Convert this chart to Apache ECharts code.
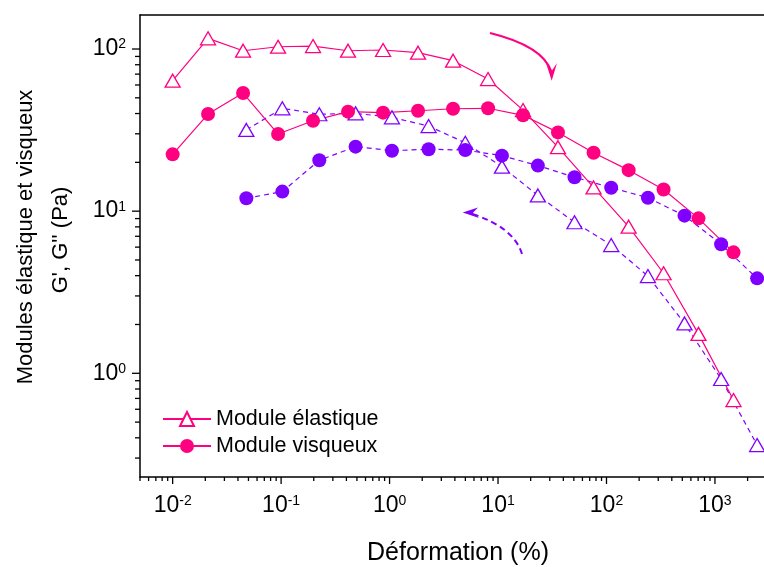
<!DOCTYPE html>
<html><head><meta charset="utf-8">
<script src="https://cdn.jsdelivr.net/npm/echarts@6/dist/echarts.min.js"></script>
<style>html,body{margin:0;padding:0;background:#fff}#c{width:764px;height:567px}</style>
</head><body><div id="c"></div>
<script>
// ---- data ----
const strainA  = [0.01, 0.0212, 0.0446, 0.0938, 0.197, 0.414, 0.871, 1.83, 3.85, 8.09, 17.0, 35.7, 76.0, 160, 336, 705, 1483];
const elasticA = [63.8, 116.4, 97.6, 103.3, 104.3, 97.6, 98.6, 94.9, 84.7, 65.3, 42.0, 24.8, 14.0, 8.02, 4.14, 1.75, 0.684];
const viscousA = [22.4, 39.7, 53.5, 29.9, 36.1, 41.1, 40.5, 41.6, 42.8, 43.1, 39.0, 30.6, 22.9, 17.9, 13.6, 9.03, 5.57];
const strainB  = [0.0478, 0.1026, 0.225, 0.486, 1.052, 2.29, 4.99, 10.87, 23.3, 50.7, 110.5, 241, 524, 1140, 2448];
const elasticB = [31.7, 43.1, 39.6, 40.1, 37.9, 33.5, 26.4, 18.8, 12.5, 8.54, 6.18, 3.98, 2.03, 0.922, 0.361];
const viscousB = [12.0, 13.2, 20.6, 25.0, 23.6, 24.1, 23.8, 22.0, 19.1, 16.2, 13.95, 12.1, 9.38, 6.25, 3.85];
const seriesNames = ['Module élastique', 'Module visqueux'];
const xTitle = 'Déformation (%)';
const yTitle1 = 'Modules élastique et visqueux';
const yTitle2 = "G', G'' (Pa)";
// axis ticks
const xMajor = [0.01, 0.1, 1, 10, 100, 1000];
const yMajor = [1, 10, 100];
const minorMult = [2, 3, 4, 5, 6, 7, 8, 9];
const xDecades = [0.001, 0.01, 0.1, 1, 10, 100, 1000];
const yDecades = [0.1, 1, 10, 100];

const X_MIN = 0.005, X_MAX = 3000, Y_MIN = 0.2293, Y_MAX = 162.1;
const PINK = '#FF0080', PURPLE = '#8000FF';
const FONT = 'Liberation Sans, Arial, sans-serif';

function minorList(decades, lo, hi) {
  const out = [];
  decades.forEach(d => minorMult.forEach(m => { const v = d * m; if (v > lo && v < hi) out.push(v); }));
  return out;
}
const xMinor = minorList(xDecades, X_MIN * 0.99, X_MAX);
const yMinor = minorList(yDecades, Y_MIN, Y_MAX);

function pairs(xs, ys) { return xs.map((x, i) => [x, ys[i]]); }

function tickSeries(axis, values, len) {
  return {
    type: 'custom', silent: true, clip: false, z: 10, animation: false,
    data: values.map(v => axis === 'x' ? [v, Y_MIN] : [X_MIN, v]),
    renderItem: (params, api) => {
      const p = api.coord([api.value(0), api.value(1)]);
      const shape = axis === 'x'
        ? { x1: p[0], y1: p[1], x2: p[0], y2: p[1] + len }
        : { x1: p[0] - len, y1: p[1], x2: p[0], y2: p[1] };
      return { type: 'line', shape: shape, style: { stroke: '#000', lineWidth: 1.3 } };
    }
  };
}

const labelFmt = v => {
  const l = Math.log10(v), e = Math.round(l);
  if (Math.abs(l - e) > 1e-6) return '';
  return '{b|10}{s|' + e + '}';
};
const labelRich = {
  b: { fontSize: 23, lineHeight: 23, fontFamily: FONT, color: '#000', padding: [6, 0, 0, 0], verticalAlign: 'bottom' },
  s: { fontSize: 14, lineHeight: 14, fontFamily: FONT, color: '#000', verticalAlign: 'top' }
};

const chart = echarts.init(document.getElementById('c'), null, { renderer: 'canvas' });
chart.setOption({
  animation: false,
  backgroundColor: '#fff',
  grid: { left: 140, top: 15, width: 626.7, height: 462, containLabel: false, outerBoundsMode: 'none' },
  xAxis: [{
    type: 'log', logBase: 10, min: X_MIN, max: X_MAX, position: 'bottom',
    axisLine: { show: true, lineStyle: { color: '#000', width: 1.5 } },
    axisTick: { show: false }, splitLine: { show: false }, minorTick: { show: false },
    axisLabel: { show: true, margin: 17, formatter: labelFmt, rich: labelRich, showMinLabel: false, showMaxLabel: false }
  }, {
    type: 'log', logBase: 10, min: X_MIN, max: X_MAX, position: 'top',
    axisLine: { show: true, lineStyle: { color: '#000', width: 1.5 } },
    axisTick: { show: false }, axisLabel: { show: false }, splitLine: { show: false }
  }],
  yAxis: [{
    type: 'log', logBase: 10, min: Y_MIN, max: Y_MAX,
    axisLine: { show: true, lineStyle: { color: '#000', width: 1.5 } },
    axisTick: { show: false }, splitLine: { show: false }, minorTick: { show: false },
    axisLabel: { show: true, margin: 14, formatter: labelFmt, rich: labelRich, showMinLabel: false, showMaxLabel: false }
  }],
  legend: {
    data: seriesNames, orient: 'vertical', left: 157, top: 402,
    itemWidth: 48, itemHeight: 17.5, itemGap: 3,
    textStyle: { fontSize: 21.5, fontFamily: FONT, color: '#000', lineHeight: 24 }
  },
  series: [
    {
      name: 'Module élastique (retour)', type: 'line', data: pairs(strainB, elasticB),
      symbol: 'triangle', symbolSize: [15, 13], showSymbol: true,
      itemStyle: { color: '#fff', borderColor: PURPLE, borderWidth: 1.3 },
      lineStyle: { color: PURPLE, width: 1.2, type: [5, 4] }
    },
    {
      name: 'Module visqueux (retour)', type: 'line', data: pairs(strainB, viscousB),
      symbol: 'circle', symbolSize: 14, showSymbol: true,
      itemStyle: { color: PURPLE, borderWidth: 0 },
      lineStyle: { color: PURPLE, width: 1.2, type: [5, 4] }
    },
    {
      name: seriesNames[0], type: 'line', data: pairs(strainA, elasticA),
      symbol: 'triangle', symbolSize: [15, 13], showSymbol: true,
      itemStyle: { color: '#fff', borderColor: PINK, borderWidth: 1.3 },
      lineStyle: { color: PINK, width: 1.2 }
    },
    {
      name: seriesNames[1], type: 'line', data: pairs(strainA, viscousA),
      symbol: 'circle', symbolSize: 14, showSymbol: true,
      itemStyle: { color: PINK, borderWidth: 0 },
      lineStyle: { color: PINK, width: 1.2 }
    },
    tickSeries('x', xMajor, 7),
    tickSeries('x', xMinor, 4),
    tickSeries('y', yMajor, 8),
    tickSeries('y', yMinor, 5)
  ],
  graphic: [
    { type: 'text', x: 26, y: 237, rotation: Math.PI / 2,
      style: { text: yTitle1, font: '22px ' + FONT, fill: '#000', align: 'center', verticalAlign: 'middle' } },
    { type: 'text', x: 61, y: 240, rotation: Math.PI / 2,
      style: { text: yTitle2, font: '22px ' + FONT, fill: '#000', align: 'center', verticalAlign: 'middle' } },
    { type: 'text', x: 458, y: 553,
      style: { text: xTitle, font: '25px ' + FONT, fill: '#000', align: 'center', verticalAlign: 'middle' } },
    // annotation arrows
    { type: 'bezierCurve', shape: { x1: 490, y1: 33, cpx1: 543, cpy1: 46, x2: 551.5, y2: 72 },
      style: { stroke: PINK, lineWidth: 2.3, fill: null } },
    { type: 'polygon', shape: { points: [[546, 63], [551.7, 71], [557, 63], [551.7, 80.7]] },
      style: { fill: PINK } },
    { type: 'bezierCurve', shape: { x1: 522, y1: 254, cpx1: 514, cpy1: 228, x2: 474, y2: 214.5 },
      style: { stroke: PURPLE, lineWidth: 2, fill: null, lineDash: [6, 4] } },
    { type: 'polygon', shape: { points: [[462.7, 212.5], [478, 207.5], [473, 212.8], [479, 218]] },
      style: { fill: PURPLE } }
  ]
});
</script></body></html>
